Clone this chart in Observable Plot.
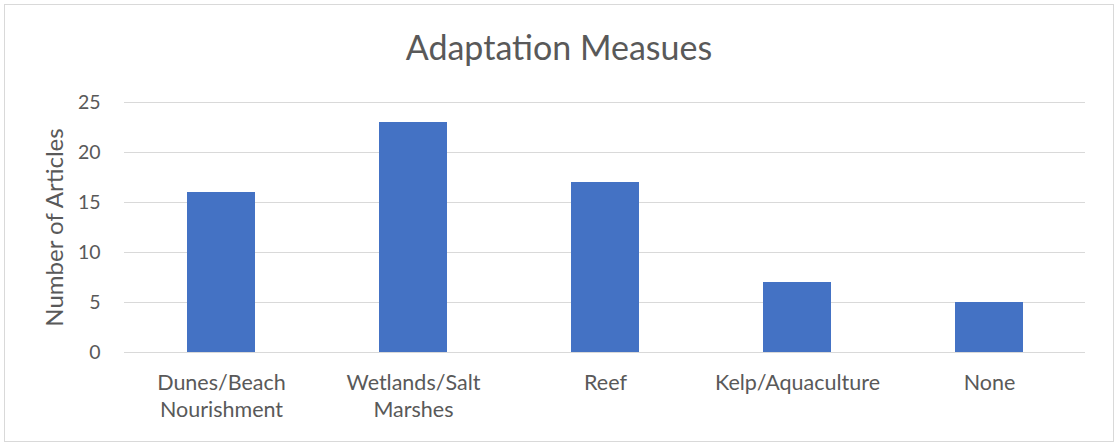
<!DOCTYPE html>
<html>
<head>
<meta charset="utf-8">
<script src="https://cdn.jsdelivr.net/npm/d3@7"></script>
<script src="https://cdn.jsdelivr.net/npm/@observablehq/plot@0.6"></script>
<style>
  html, body { margin: 0; padding: 0; background: #fff; }
  #frame {
    position: absolute; left: 4px; top: 4px; width: 1110px; height: 438px;
    box-sizing: border-box; border: 1px solid #d9d9d9; background: #fff;
    font-family: Lato, "Open Sans", sans-serif;
  }
  #title {
    height: 79px; box-sizing: border-box; padding-top: 23px;
    text-align: center; font-size: 34px; color: #595959; line-height: 38px;
  }
  #chart svg { display: block; }
</style>
</head>
<body>
<div id="frame">
  <div id="title">Adaptation Measues</div>
  <div id="chart"></div>
</div>
<script>
const categories = ["Dunes/Beach\nNourishment", "Wetlands/Salt\nMarshes", "Reef", "Kelp/Aquaculture", "None"];
const articles = [16, 23, 17, 7, 5];
const yTicks = [0, 5, 10, 15, 20, 25];
const yLabel = "Number of Articles";

const data = categories.map((c, i) => ({category: c, value: articles[i]}));

const chart = Plot.plot({
  width: 1108,
  height: 356,
  marginTop: 18,
  marginBottom: 88,
  marginLeft: 119,
  marginRight: 28,
  style: {fontFamily: "Lato, 'Open Sans', sans-serif", fontSize: "19px", color: "#595959", background: "#fff"},
  x: {domain: categories, paddingInner: 0.646, paddingOuter: 0.323, label: null},
  y: {domain: [0, 25], label: null},
  marks: [
    Plot.gridY(yTicks, {stroke: "#d9d9d9", strokeOpacity: 1, strokeWidth: 1}),
    Plot.barY(data, {x: "category", y: "value", fill: "#4472C4"}),
    Plot.axisY({ticks: yTicks, tickSize: 0, tickPadding: 24, label: null, fontSize: 19.5}),
    Plot.axisX({tickSize: 0, tickPadding: 18, label: null, fontSize: 21.5, lineHeight: 1.27}),
    Plot.text([yLabel], {frameAnchor: "left", textAnchor: "middle", text: d => d, rotate: -90, dx: -69, fontSize: 24, fill: "#595959"})
  ]
});
document.getElementById("chart").appendChild(chart);
</script>
</body>
</html>
